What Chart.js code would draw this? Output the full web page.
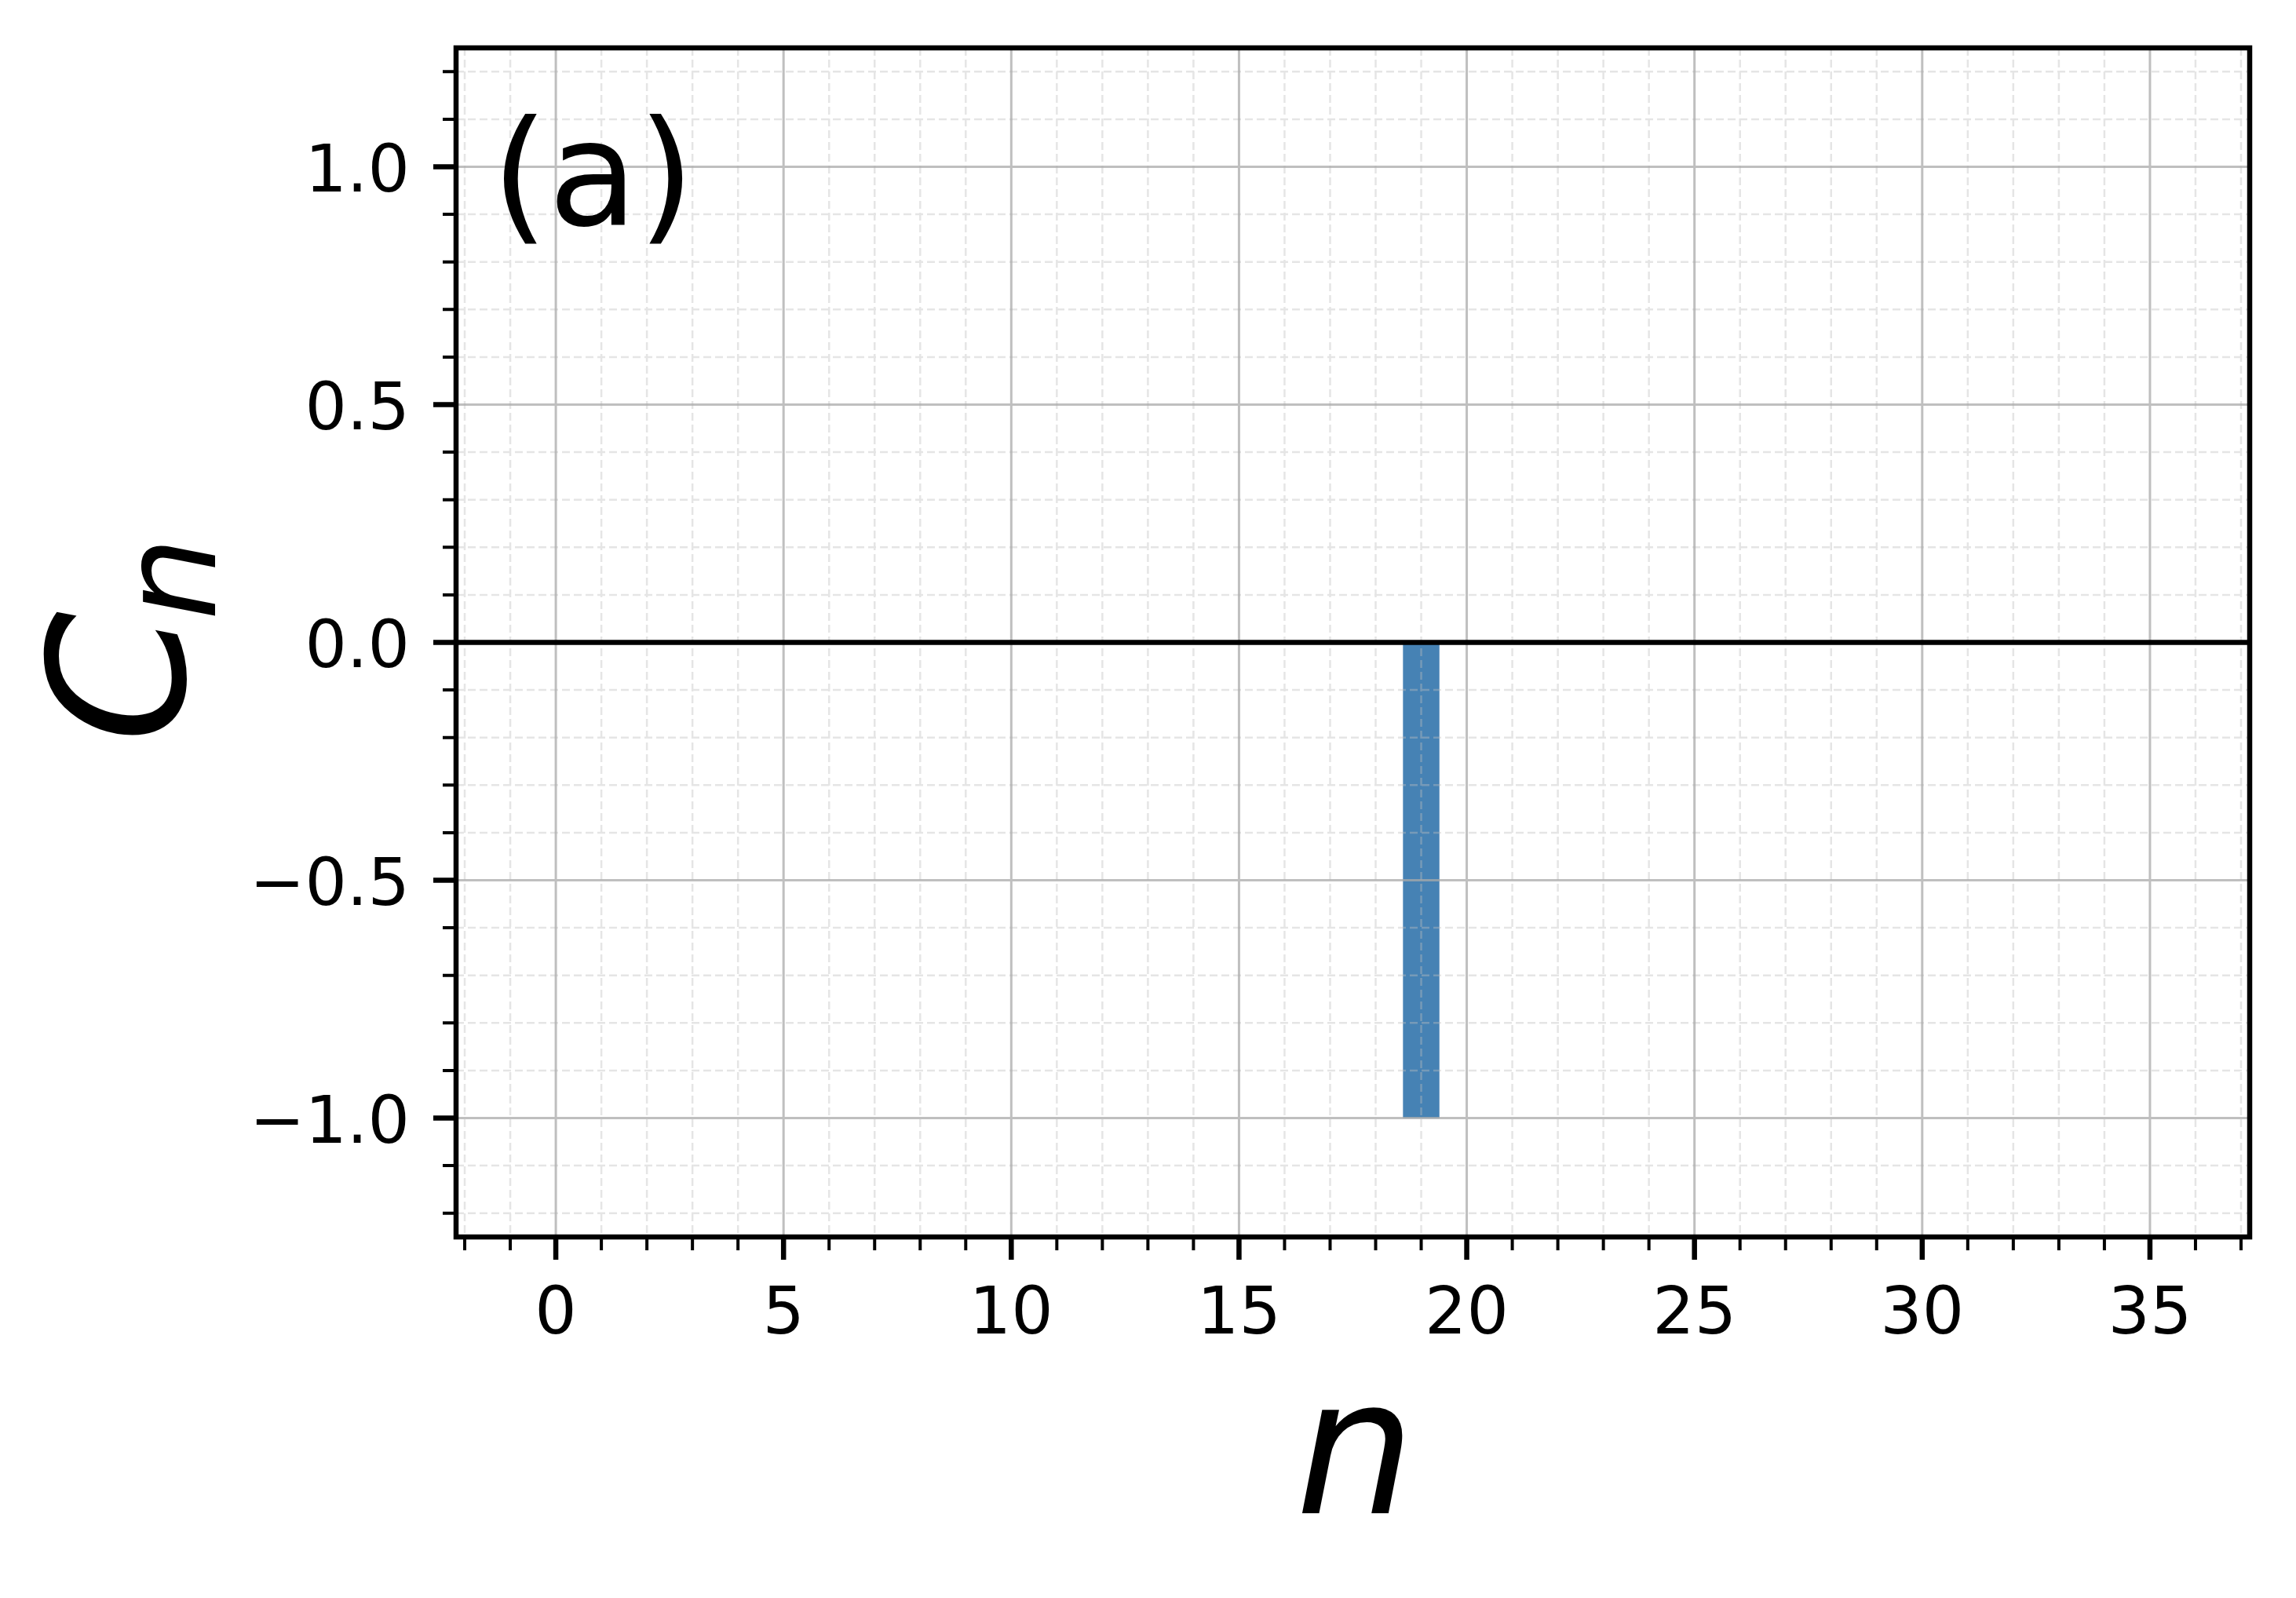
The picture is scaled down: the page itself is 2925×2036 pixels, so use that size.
<!DOCTYPE html>
<html>
<head>
<meta charset="utf-8">
<script src="https://cdn.jsdelivr.net/npm/chart.js@4.4.1/dist/chart.umd.min.js"></script>
<style>
  html, body { margin: 0; padding: 0; background: #fff; }
  canvas { display: block; }
</style>
</head>
<body>
<canvas id="chart" width="2925" height="2036"></canvas>
<script>
// data
const nValues = [0, 1, 2, 3, 4, 5, 6, 7, 8, 9, 10, 11, 12, 13, 14, 15, 16, 17,
  18, 19, 20, 21, 22, 23, 24, 25, 26, 27, 28, 29, 30, 31, 32, 33, 34, 35];
const cValues = [0, 0, 0, 0, 0, 0, 0, 0, 0, 0, 0, 0, 0, 0, 0, 0, 0, 0,
  0, -1, 0, 0, 0, 0, 0, 0, 0, 0, 0, 0, 0, 0, 0, 0, 0, 0];

const xTicks = [0, 5, 10, 15, 20, 25, 30, 35];
const xTickLabels = ['0', '5', '10', '15', '20', '25', '30', '35'];
const yTicks = [-1.0, -0.5, 0.0, 0.5, 1.0];
const yTickLabels = ['\u22121.0', '\u22120.5', '0.0', '0.5', '1.0'];

const xLimits = [-2.19, 37.19];
const yLimits = [-1.25, 1.25];

const FONT = '"DejaVu Sans", sans-serif';

// minor ticks: every 1 on x, every 0.1 on y
function minorTicks(lo, hi, step, majors) {
  const out = [];
  const start = Math.ceil(lo / step - 1e-9);
  const end = Math.floor(hi / step + 1e-9);
  for (let k = start; k <= end; k++) {
    const v = +(k * step).toFixed(6);
    if (!majors.some(m => Math.abs(m - v) < 1e-6)) out.push(v);
  }
  return out;
}

const axesPlugin = {
  id: 'mplAxes',
  afterDatasetsDraw(chart) {
    const ctx = chart.ctx;
    const a = chart.chartArea;
    const xs = chart.scales.x, ys = chart.scales.y;
    const xMinor = minorTicks(xLimits[0], xLimits[1], 1, xTicks);
    const yMinor = minorTicks(yLimits[0], yLimits[1], 0.1, yTicks);

    ctx.save();
    ctx.beginPath();
    ctx.rect(a.left, a.top, a.right - a.left, a.bottom - a.top);
    ctx.clip();

    // minor grid, dashed
    ctx.strokeStyle = 'rgba(190,190,190,0.4)';
    ctx.lineWidth = 2.5;
    ctx.setLineDash([10, 5]);
    ctx.beginPath();
    xMinor.forEach(v => {
      const px = xs.getPixelForValue(v);
      ctx.moveTo(px, a.top); ctx.lineTo(px, a.bottom);
    });
    yMinor.forEach(v => {
      const py = ys.getPixelForValue(v);
      ctx.moveTo(a.left, py); ctx.lineTo(a.right, py);
    });
    ctx.stroke();

    // major grid
    ctx.setLineDash([]);
    ctx.strokeStyle = 'rgba(170,170,170,0.75)';
    ctx.lineWidth = 3;
    ctx.beginPath();
    xTicks.forEach(v => {
      const px = xs.getPixelForValue(v);
      ctx.moveTo(px, a.top); ctx.lineTo(px, a.bottom);
    });
    yTicks.forEach(v => {
      const py = ys.getPixelForValue(v);
      ctx.moveTo(a.left, py); ctx.lineTo(a.right, py);
    });
    ctx.stroke();

    // zero line
    ctx.strokeStyle = '#000';
    ctx.lineWidth = 6.5;
    ctx.beginPath();
    const y0 = ys.getPixelForValue(0);
    ctx.moveTo(a.left, y0); ctx.lineTo(a.right, y0);
    ctx.stroke();
    ctx.restore();

    ctx.save();
    // ticks
    ctx.strokeStyle = '#000';
    ctx.lineCap = 'butt';
    const drawTicks = (vals, len, width) => {
      ctx.lineWidth = width;
      ctx.beginPath();
      vals.x.forEach(v => {
        const px = xs.getPixelForValue(v);
        ctx.moveTo(px, a.bottom); ctx.lineTo(px, a.bottom + len);
      });
      vals.y.forEach(v => {
        const py = ys.getPixelForValue(v);
        ctx.moveTo(a.left, py); ctx.lineTo(a.left - len, py);
      });
      ctx.stroke();
    };
    drawTicks({ x: xMinor, y: yMinor }, 17, 4);
    drawTicks({ x: xTicks, y: yTicks }, 29, 6.5);

    // spines
    ctx.lineWidth = 6.5;
    ctx.strokeRect(a.left, a.top, a.right - a.left, a.bottom - a.top);

    // tick labels
    ctx.fillStyle = '#000';
    ctx.font = '84px ' + FONT;
    ctx.textBaseline = 'alphabetic';
    ctx.textAlign = 'center';
    xTicks.forEach((v, i) => {
      ctx.fillText(xTickLabels[i], xs.getPixelForValue(v), a.bottom + 123);
    });
    ctx.textAlign = 'right';
    yTicks.forEach((v, i) => {
      ctx.fillText(yTickLabels[i], a.left - 59, ys.getPixelForValue(v) + 31);
    });

    // axis labels
    ctx.font = 'italic 240px ' + FONT;
    ctx.textAlign = 'center';
    ctx.fillText('n', (a.left + a.right) / 2 + 3, 1928);

    ctx.save();
    ctx.translate(235, (a.top + a.bottom) / 2);
    ctx.rotate(-Math.PI / 2);
    ctx.textAlign = 'left';
    ctx.font = 'italic 240px ' + FONT;
    ctx.fillText('C', -128, 0);
    ctx.font = 'italic 168px ' + FONT;
    ctx.fillText('n', 28, 39);
    ctx.restore();

    // panel label
    ctx.font = '186px ' + FONT;
    ctx.textAlign = 'left';
    ctx.fillText('(a)', a.left + 45, 286);
    ctx.restore();
  }
};

new Chart(document.getElementById('chart'), {
  type: 'bar',
  data: {
    datasets: [{
      label: 'C_n',
      data: nValues.map((n, i) => ({ x: n, y: cValues[i] })),
      backgroundColor: '#4682b4',
      borderWidth: 0,
      barPercentage: 0.8,
      categoryPercentage: 1.0
    }]
  },
  options: {
    responsive: false,
    animation: false,
    devicePixelRatio: 1,
    layout: { padding: { left: 581, right: 59, top: 61, bottom: 460 } },
    plugins: { legend: { display: false }, tooltip: { enabled: false } },
    scales: {
      x: { type: 'linear', min: xLimits[0], max: xLimits[1], display: false, offset: false },
      y: { type: 'linear', min: yLimits[0], max: yLimits[1], display: false }
    }
  },
  plugins: [axesPlugin]
});
</script>
</body>
</html>
